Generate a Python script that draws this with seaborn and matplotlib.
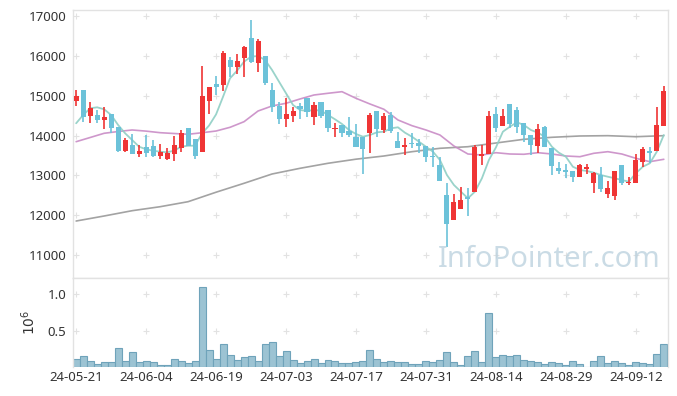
import numpy as np
import pandas as pd
import matplotlib
matplotlib.use("Agg")
import matplotlib.pyplot as plt
import seaborn as sns

# trading days (KRX), 2024-05-21 .. 2024-09-23
holidays = ["2024-06-06", "2024-08-15", "2024-09-16", "2024-09-17", "2024-09-18"]
dates = pd.bdate_range("2024-05-21", "2024-09-23", freq="C", holidays=holidays)

opens = [14874, 15143, 14497, 14515, 14390, 14540, 14222, 13619, 13762, 13536,
         13720, 13745, 13493, 13411, 13536, 13679, 14196, 13913, 13594, 14874,
         15293, 15268, 15896, 15727, 15953, 16455, 15813, 15996, 15143, 14741,
         14422, 14497, 14741, 14934, 14473, 14841, 14640, 14156, 14264, 14114,
         13970, 13955, 14071, 14616, 14139, 14515, 13863, 13704, 13810, 13805,
         13745, 13493, 13260, 12507, 11880, 12156, 12449, 12590, 13493, 13529,
         14540, 14239, 14791, 14641, 14307, 14013, 13745, 14206, 13679, 13177,
         13135, 13109, 12967, 13160, 12816, 13009, 12525, 12490, 13260, 12800,
         12816, 13343, 13611, 13611, 14247]
highs = [15143, 15143, 14834, 14641, 14708, 14540, 14222, 13945, 14031, 13762,
         14013, 13888, 13779, 13679, 13988, 14139, 14196, 13913, 15745, 15210,
         15494, 16130, 15978, 16046, 16255, 16900, 16415, 15996, 15311, 14849,
         14934, 14726, 14809, 14934, 14849, 14841, 14640, 14307, 14264, 14472,
         14289, 13955, 14558, 14616, 14558, 14582, 14096, 13930, 14056, 13905,
         13745, 13720, 13453, 12801, 12532, 12700, 12675, 13762, 13762, 14616,
         14724, 14666, 14791, 14724, 14307, 14013, 14289, 14247, 13679, 13328,
         13285, 13109, 13285, 13285, 13077, 13202, 12866, 13109, 13260, 12950,
         13529, 13720, 13720, 14708, 15243]
lows = [14741, 14347, 14322, 14307, 14156, 14071, 13580, 13594, 13536, 13453,
        13468, 13468, 13403, 13386, 13368, 13594, 13745, 13403, 13594, 14540,
        15017, 15125, 15461, 15544, 15476, 15813, 15587, 15268, 14583, 14289,
        14221, 14331, 14407, 14472, 14264, 14440, 14081, 13970, 13970, 13970,
        13720, 13034, 13553, 13970, 14056, 14056, 13679, 13511, 13679, 13553,
        13343, 13218, 12866, 11194, 11880, 12156, 11980, 12590, 13260, 13529,
        14096, 14239, 14181, 14071, 13845, 13511, 13553, 13720, 13009, 13034,
        12926, 12841, 12967, 13034, 12550, 12590, 12424, 12382, 12758, 12758,
        12816, 13218, 13303, 13611, 14247]
closes = [14992, 14472, 14683, 14390, 14473, 14196, 13612, 13888, 13536, 13611,
          13569, 13493, 13578, 13553, 13762, 14071, 13745, 13493, 14992, 15210,
          15225, 16079, 15727, 15871, 16230, 15853, 16372, 15326, 14724, 14422,
          14540, 14616, 14666, 14583, 14766, 14490, 14181, 14181, 14071, 14013,
          13720, 13662, 14515, 14164, 14490, 14114, 13694, 13762, 13795, 13745,
          13468, 13468, 12866, 11779, 12339, 12382, 12407, 13720, 13536, 14490,
          14196, 14490, 14289, 14222, 14013, 13762, 14164, 13720, 13243, 13117,
          13092, 12967, 13260, 13218, 13052, 12658, 12675, 13109, 12816, 12841,
          13386, 13662, 13553, 14264, 15125]
volumes = [0.108, 0.149, 0.081, 0.041, 0.068, 0.068, 0.257, 0.081, 0.203, 0.068,
           0.081, 0.068, 0.027, 0.027, 0.108, 0.081, 0.054, 0.081, 1.095, 0.243,
           0.108, 0.324, 0.162, 0.095, 0.135, 0.149, 0.081, 0.324, 0.351, 0.149,
           0.216, 0.095, 0.054, 0.081, 0.108, 0.054, 0.095, 0.081, 0.054, 0.054,
           0.068, 0.081, 0.230, 0.108, 0.068, 0.081, 0.068, 0.068, 0.041, 0.041,
           0.081, 0.068, 0.095, 0.203, 0.068, 0.027, 0.149, 0.216, 0.068, 0.743,
           0.135, 0.162, 0.149, 0.162, 0.095, 0.081, 0.068, 0.041, 0.068, 0.054,
           0.027, 0.081, 0.041, 0.009, 0.081, 0.149, 0.054, 0.081, 0.054, 0.027,
           0.068, 0.054, 0.041, 0.176, 0.324]

# moving averages
ma5 = [14307, 14515, 14683, 14708, 14658, 14515, 14264, 14056, 13888, 13719,
       13654, 13619, 13594, 13579, 13619, 13719, 13744, 13744, 14056, 14250,
       14530, 14974, 15436, 15627, 15853, 15978, 15996, 15896, 15645, 15351,
       15060, 14766, 14641, 14616, 14641, 14623, 14515, 14407, 14289, 14139,
       14038, 13970, 14013, 14081, 14096, 14181, 14206, 14071, 13970, 13845,
       13719, 13594, 13386, 13009, 12758, 12590, 12424, 12590, 12926, 13386,
       13700, 14096, 14221, 14332, 14264, 14139, 14071, 13970, 13719, 13569,
       13468, 13217, 13135, 13110, 13067, 13009, 12966, 12926, 12884, 12841,
       13052, 13217, 13303, 13594, 14013]
ma20_idx = list(range(0, 85, 2))
ma20 = [13845, 13950, 14056, 14100, 14139, 14110, 14071, 14050, 14031, 14070,
        14113, 14206, 14347, 14615, 14741, 14809, 14917, 15017, 15060, 15100,
        14934, 14791, 14658, 14390, 14247, 14139, 14013, 13737, 13536, 13511,
        13569, 13536, 13529, 13569, 13536, 13486, 13468, 13554, 13594, 13536,
        13428, 13343, 13403]
ma120_idx = list(range(0, 85, 4))
ma120 = [11854, 11980, 12113, 12213, 12339, 12577, 12801, 13034, 13177, 13303,
         13406, 13486, 13594, 13679, 13719, 13812, 13905, 13955, 13988, 13996,
         13970, 13996]

tick_idx = list(range(0, 81, 10))
tick_labels = [d.strftime("%y-%m-%d") for d in dates[tick_idx]]
price_ticks = [11000, 12000, 13000, 14000, 15000, 16000, 17000]
vol_ticks = [0.5, 1.0]

UP, DOWN = "#ef3535", "#6cc2d9"
sns.set_theme(style="white")
plt.rcParams["font.family"] = ["Noto Sans", "DejaVu Sans"]

fig = plt.figure(figsize=(6.77, 3.96), dpi=100)
ax = fig.add_axes([73 / 677, 118 / 396, 595 / 677, 268 / 396])
axv = fig.add_axes([73 / 677, 28.7 / 396, 595 / 677, 89.3 / 396])

df = pd.DataFrame({"i": np.arange(len(closes)), "o": opens, "h": highs,
                   "l": lows, "c": closes, "v": volumes})
df["color"] = np.where(df["c"] >= df["o"], UP, DOWN)

# grid crosses
gx, gy = np.meshgrid(tick_idx, price_ticks)
ax.scatter(gx.ravel(), gy.ravel(), marker="+", s=16, color="#e2e2e2", linewidths=0.8, zorder=0)
gx, gy = np.meshgrid(tick_idx, vol_ticks)
axv.scatter(gx.ravel(), gy.ravel(), marker="+", s=16, color="#e2e2e2", linewidths=0.8, zorder=0)

# moving averages
sns.lineplot(x=ma120_idx, y=ma120, ax=ax, color="#999999", lw=1.2, alpha=0.9, zorder=2)
sns.lineplot(x=ma20_idx, y=ma20, ax=ax, color="#c98cc6", lw=1.2, alpha=0.9, zorder=2)
sns.lineplot(x=df["i"], y=ma5, ax=ax, color="#8fcfc5", lw=1.3, alpha=0.9, zorder=2)

# candles
ax.vlines(df["i"], df["l"], df["h"], colors=df["color"], lw=1.2, zorder=3)
body = np.maximum((df["c"] - df["o"]).abs(), 25)
ax.bar(df["i"], body, bottom=np.minimum(df["o"], df["c"]), width=0.72,
       color=df["color"], linewidth=0, zorder=4)

ax.set_xlim(-0.45, 84.6)
ax.set_ylim(10424, 17150)
ax.set_yticks(price_ticks)
ax.set_yticklabels([str(p) for p in price_ticks])
ax.set_xticks(tick_idx)
ax.set_xticklabels([])
ax.set_xlabel("")
ax.set_ylabel("")

# volume
sns.barplot(x=df["i"], y=df["v"], ax=axv, native_scale=True, width=1.0,
            color="#9cc3d3", edgecolor="#6fa3ba", linewidth=0.8, saturation=1)
axv.set_xlim(-0.45, 84.6)
axv.set_ylim(0, 1.22)
axv.set_yticks(vol_ticks)
axv.set_yticklabels(["0.5", "1.0"])
axv.set_xticks(tick_idx)
axv.set_xticklabels(tick_labels)
axv.set_xlabel("")
axv.set_ylabel(r"$10^{6}$", fontsize=10, color="#333333", labelpad=6)

for a in (ax, axv):
    a.tick_params(length=0, labelsize=9.5, colors="#333333", pad=5)
    for s in a.spines.values():
        s.set_color("#e2e2e2")
        s.set_linewidth(1)
axv.spines["bottom"].set_visible(False)
axv.tick_params(axis="x", pad=3)

fig.text(0.812, 0.3265, "InfoPointer.com", ha="center", va="baseline",
         fontsize=21, color="#b9d0dd", alpha=0.75, zorder=10)

fig.savefig("out.png", dpi=100)
